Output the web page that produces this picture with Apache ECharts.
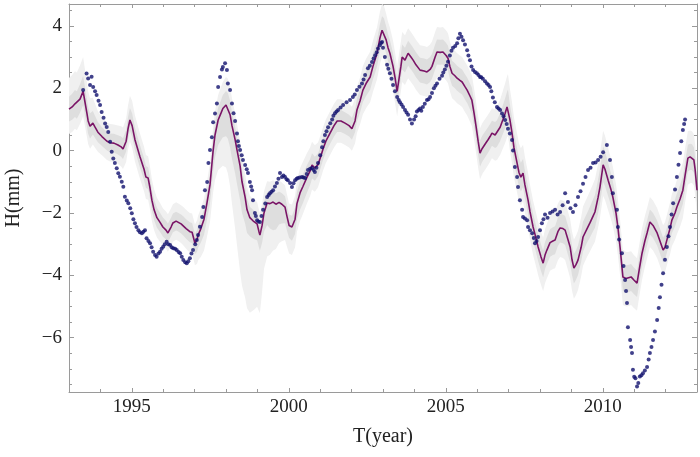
<!DOCTYPE html>
<html><head><meta charset="utf-8">
<script src="https://cdn.jsdelivr.net/npm/echarts@6/dist/echarts.min.js"></script>
<style>html,body{margin:0;padding:0;background:#fff}#c{width:700px;height:457px}</style>
</head><body><div id="c"></div>
<script>
// ---- smoothed model curve (purple) ----
const lineYears = [1993.00,1993.10,1993.19,1993.25,1993.35,1993.45,1993.51,1993.57,1993.61,1993.67,1993.76,1993.83,1993.92,1994.05,1994.21,1994.31,1994.43,1994.56,1994.66,1994.72,1994.82,1994.88,1994.94,1995.01,1995.10,1995.26,1995.39,1995.45,1995.52,1995.58,1995.64,1995.71,1995.80,1995.90,1995.99,1996.09,1996.15,1996.25,1996.31,1996.41,1996.47,1996.57,1996.63,1996.73,1996.79,1996.85,1996.92,1996.98,1997.01,1997.08,1997.11,1997.20,1997.30,1997.39,1997.49,1997.59,1997.65,1997.75,1997.84,1997.90,1998.00,1998.06,1998.13,1998.19,1998.29,1998.35,1998.45,1998.51,1998.61,1998.67,1998.76,1998.86,1998.92,1998.99,1999.05,1999.08,1999.15,1999.21,1999.31,1999.40,1999.50,1999.59,1999.69,1999.78,1999.88,1999.94,2000.01,2000.10,2000.20,2000.26,2000.36,2000.45,2000.58,2000.68,2000.74,2000.83,2000.93,2001.03,2001.09,2001.18,2001.31,2001.44,2001.54,2001.66,2001.79,2001.92,2002.01,2002.11,2002.17,2002.27,2002.36,2002.46,2002.59,2002.68,2002.81,2002.90,2002.97,2003.03,2003.10,2003.16,2003.22,2003.32,2003.38,2003.45,2003.51,2003.57,2003.61,2003.70,2003.80,2003.89,2003.96,2004.05,2004.18,2004.31,2004.40,2004.50,2004.56,2004.66,2004.72,2004.82,2004.91,2005.01,2005.07,2005.13,2005.20,2005.29,2005.36,2005.45,2005.52,2005.61,2005.68,2005.77,2005.83,2005.90,2005.96,2006.03,2006.09,2006.15,2006.18,2006.28,2006.34,2006.41,2006.47,2006.57,2006.63,2006.73,2006.82,2006.89,2006.95,2006.98,2007.04,2007.11,2007.17,2007.27,2007.33,2007.39,2007.46,2007.52,2007.62,2007.68,2007.78,2007.87,2007.94,2008.03,2008.10,2008.16,2008.22,2008.32,2008.41,2008.48,2008.57,2008.64,2008.73,2008.80,2008.89,2008.96,2009.02,2009.08,2009.15,2009.21,2009.31,2009.37,2009.50,2009.59,2009.69,2009.75,2009.85,2009.91,2010.01,2010.07,2010.17,2010.26,2010.32,2010.42,2010.48,2010.55,2010.64,2010.74,2010.80,2010.90,2010.99,2011.09,2011.18,2011.25,2011.34,2011.41,2011.50,2011.60,2011.73,2011.82,2011.92,2011.98,2012.04,2012.14,2012.20,2012.30,2012.36,2012.46,2012.55,2012.62,2012.71,2012.78,2012.84,2012.90,2012.94,2013.00];
const lineValues = [1.33,1.40,1.50,1.45,1.65,1.90,1.55,1.20,0.95,0.78,0.88,0.75,0.59,0.45,0.30,0.25,0.24,0.18,0.12,0.05,0.30,0.70,0.98,0.80,0.35,-0.20,-0.60,-0.85,-0.88,-1.20,-1.59,-1.90,-2.15,-2.30,-2.45,-2.55,-2.64,-2.45,-2.32,-2.26,-2.29,-2.35,-2.40,-2.50,-2.55,-2.60,-2.62,-2.85,-2.97,-2.85,-2.71,-2.50,-2.20,-1.70,-1.10,0.00,0.50,0.98,1.20,1.35,1.46,1.40,1.15,0.80,0.35,0.02,-0.50,-1.00,-1.50,-1.90,-2.15,-2.25,-2.30,-2.35,-2.60,-2.71,-2.40,-2.00,-1.68,-1.70,-1.65,-1.72,-1.66,-1.72,-1.81,-2.10,-2.40,-2.45,-2.20,-1.70,-1.35,-1.15,-0.85,-0.65,-0.46,-0.56,-0.45,-0.15,0.05,0.30,0.55,0.80,0.95,0.95,0.88,0.80,0.70,0.95,1.30,1.60,1.94,2.15,2.36,2.70,3.12,3.60,3.86,3.80,3.55,3.30,3.12,2.70,2.36,1.90,2.30,2.70,3.00,2.90,3.12,3.00,2.90,2.75,2.58,2.55,2.52,2.60,2.70,3.00,3.16,3.15,3.16,3.05,2.96,2.70,2.48,2.40,2.32,2.25,2.20,2.05,1.94,1.75,1.62,1.20,0.80,0.30,-0.08,0.05,0.11,0.25,0.34,0.45,0.56,0.50,0.55,0.75,1.00,1.20,1.40,1.46,1.00,0.56,0.10,-0.40,-0.70,-0.85,-0.72,-1.10,-1.59,-1.95,-2.45,-2.80,-3.09,-3.40,-3.61,-3.35,-3.19,-2.95,-2.90,-2.87,-2.60,-2.48,-2.50,-2.55,-2.85,-3.09,-3.50,-3.77,-3.65,-3.51,-3.10,-2.77,-2.50,-2.32,-2.10,-1.97,-1.50,-1.17,-0.46,-0.60,-0.95,-1.25,-1.49,-2.00,-2.45,-3.10,-4.05,-4.10,-4.09,-4.05,-4.15,-4.25,-3.70,-3.29,-2.90,-2.64,-2.29,-2.40,-2.64,-2.90,-3.19,-3.10,-2.87,-2.50,-2.23,-2.00,-1.81,-1.55,-1.27,-0.80,-0.24,-0.20,-0.21,-0.30,-0.60,-1.27];

// ---- observations (blue dots) ----
const dotYears = [1993.45,1993.56,1993.61,1993.67,1993.72,1993.77,1993.83,1993.88,1993.94,1993.99,1994.04,1994.10,1994.15,1994.20,1994.25,1994.31,1994.36,1994.41,1994.46,1994.52,1994.57,1994.62,1994.68,1994.73,1994.78,1994.84,1994.89,1994.95,1995.00,1995.05,1995.10,1995.15,1995.21,1995.26,1995.32,1995.37,1995.42,1995.47,1995.53,1995.58,1995.63,1995.68,1995.74,1995.79,1995.85,1995.90,1995.95,1996.00,1996.05,1996.11,1996.16,1996.22,1996.27,1996.32,1996.38,1996.43,1996.49,1996.54,1996.59,1996.64,1996.70,1996.75,1996.80,1996.85,1996.90,1996.95,1997.02,1997.07,1997.11,1997.17,1997.24,1997.28,1997.33,1997.40,1997.44,1997.49,1997.55,1997.59,1997.65,1997.71,1997.75,1997.81,1997.87,1997.90,1997.97,1998.03,1998.06,1998.13,1998.19,1998.24,1998.29,1998.35,1998.38,1998.41,1998.45,1998.50,1998.54,1998.61,1998.66,1998.70,1998.76,1998.80,1998.83,1998.86,1998.92,1998.95,1998.99,1999.03,1999.08,1999.13,1999.18,1999.25,1999.31,1999.36,1999.40,1999.45,1999.50,1999.56,1999.62,1999.67,1999.72,1999.78,1999.83,1999.88,1999.93,1999.97,2000.04,2000.10,2000.15,2000.20,2000.25,2000.29,2000.35,2000.42,2000.47,2000.52,2000.57,2000.61,2000.68,2000.74,2000.79,2000.83,2000.88,2000.93,2001.00,2001.06,2001.10,2001.15,2001.20,2001.25,2001.32,2001.38,2001.42,2001.47,2001.52,2001.57,2001.65,2001.73,2001.84,2001.95,2002.04,2002.10,2002.17,2002.25,2002.33,2002.38,2002.43,2002.52,2002.58,2002.65,2002.70,2002.75,2002.80,2002.84,2002.90,2002.94,2002.97,2003.00,2003.06,2003.13,2003.17,2003.22,2003.27,2003.32,2003.38,2003.45,2003.50,2003.54,2003.59,2003.64,2003.70,2003.75,2003.80,2003.86,2003.92,2003.99,2004.04,2004.08,2004.13,2004.18,2004.22,2004.27,2004.33,2004.40,2004.45,2004.50,2004.56,2004.62,2004.67,2004.72,2004.80,2004.88,2004.92,2004.97,2005.02,2005.07,2005.13,2005.18,2005.23,2005.30,2005.36,2005.40,2005.45,2005.50,2005.55,2005.61,2005.68,2005.72,2005.77,2005.82,2005.87,2005.93,2005.99,2006.04,2006.09,2006.13,2006.18,2006.25,2006.31,2006.36,2006.41,2006.45,2006.50,2006.56,2006.63,2006.68,2006.73,2006.79,2006.84,2006.89,2006.94,2006.98,2007.04,2007.11,2007.14,2007.20,2007.27,2007.30,2007.36,2007.43,2007.46,2007.52,2007.59,2007.62,2007.68,2007.75,2007.80,2007.84,2007.89,2007.94,2008.00,2008.06,2008.11,2008.16,2008.24,2008.32,2008.40,2008.48,2008.56,2008.64,2008.72,2008.80,2008.89,2008.97,2009.05,2009.13,2009.21,2009.29,2009.37,2009.45,2009.53,2009.61,2009.69,2009.77,2009.85,2009.93,2010.01,2010.13,2010.23,2010.29,2010.32,2010.45,2010.48,2010.52,2010.61,2010.66,2010.71,2010.74,2010.77,2010.80,2010.87,2010.90,2010.93,2010.96,2011.00,2011.04,2011.09,2011.13,2011.18,2011.23,2011.28,2011.34,2011.41,2011.46,2011.50,2011.55,2011.60,2011.66,2011.73,2011.78,2011.82,2011.87,2011.92,2011.98,2012.04,2012.09,2012.14,2012.19,2012.24,2012.30,2012.36,2012.41,2012.46,2012.50,2012.55,2012.59,2012.62];
const dotValues = [1.94,2.47,2.31,2.10,2.37,2.04,1.90,1.78,1.60,1.46,1.24,1.05,0.87,0.76,0.60,0.28,-0.04,-0.25,-0.40,-0.57,-0.73,-0.84,-1.00,-1.16,-1.48,-1.60,-1.69,-1.85,-2.01,-2.20,-2.33,-2.45,-2.55,-2.62,-2.65,-2.60,-2.55,-2.81,-2.90,-2.97,-3.10,-3.24,-3.35,-3.40,-3.30,-3.24,-3.15,-3.08,-3.00,-2.92,-3.00,-3.03,-3.10,-3.13,-3.15,-3.19,-3.25,-3.29,-3.40,-3.51,-3.58,-3.61,-3.55,-3.45,-3.30,-3.19,-3.00,-2.87,-2.71,-2.44,-2.13,-1.81,-1.27,-1.01,-0.40,0.02,0.43,0.91,1.19,1.51,2.04,2.36,2.60,2.68,2.80,2.58,2.15,1.94,1.51,1.20,0.95,0.55,0.30,0.15,0.02,-0.15,-0.30,-0.46,-0.60,-0.72,-1.01,-1.15,-1.27,-1.59,-2.00,-2.10,-2.23,-2.27,-2.29,-2.10,-1.90,-1.70,-1.49,-1.42,-1.37,-1.32,-1.27,-1.15,-1.04,-0.90,-0.72,-0.85,-0.80,-0.85,-0.92,-0.95,-1.04,-1.17,-1.05,-0.95,-0.90,-0.88,-0.86,-0.85,-0.86,-0.88,-0.75,-0.62,-0.58,-0.56,-0.62,-0.69,-0.55,-0.40,-0.15,0.11,0.30,0.50,0.62,0.75,0.88,1.00,1.12,1.20,1.25,1.30,1.38,1.46,1.55,1.62,1.72,1.80,1.94,2.05,2.15,2.28,2.42,2.64,2.72,2.84,2.95,3.06,3.15,3.27,3.38,3.45,3.48,3.30,3.00,2.75,2.62,2.48,2.30,2.10,1.90,1.72,1.62,1.55,1.48,1.40,1.30,1.22,1.15,1.00,0.87,1.00,1.10,1.25,1.30,1.35,1.28,1.40,1.50,1.62,1.65,1.72,1.85,2.00,2.08,2.15,2.30,2.40,2.50,2.60,2.72,2.85,3.05,3.20,3.30,3.35,3.44,3.60,3.75,3.65,3.54,3.40,3.22,3.05,2.90,2.70,2.58,2.52,2.48,2.42,2.36,2.35,2.30,2.22,2.15,2.10,2.04,1.90,1.70,1.55,1.40,1.35,1.30,1.19,1.10,0.98,0.85,0.70,0.55,0.34,0.00,-0.53,-0.85,-1.17,-1.59,-1.90,-2.13,-2.18,-2.23,-2.45,-2.55,-2.65,-2.80,-2.97,-2.90,-2.77,-2.55,-2.33,-2.20,-2.05,-2.15,-2.00,-1.95,-1.90,-2.05,-1.97,-1.75,-1.37,-1.65,-1.85,-1.97,-1.75,-1.49,-1.30,-1.06,-0.85,-0.62,-0.55,-0.40,-0.38,-0.30,-0.20,-0.05,0.18,-0.30,-0.85,-1.37,-1.90,-2.45,-2.85,-3.29,-3.70,-4.15,-4.50,-4.89,-5.66,-6.07,-6.30,-6.49,-7.03,-7.25,-7.30,-7.56,-7.45,-7.24,-7.20,-7.14,-7.05,-6.94,-6.70,-6.49,-6.30,-6.07,-5.80,-5.43,-5.05,-4.70,-4.30,-3.93,-3.50,-3.09,-2.75,-2.45,-2.05,-1.69,-1.25,-0.85,-0.45,-0.08,0.30,0.66,0.85,1.00];

// ---- uncertainty band half-widths (read at knots) ----
const bandYears = [1993.0,1993.45,1994.0,1994.5,1995.0,1995.5,1996.0,1996.5,1997.0,1997.5,1998.0,1998.13,1998.45,1998.76,1999.08,1999.21,1999.5,2000.0,2000.4,2001.0,2001.5,2002.0,2002.5,2003.0,2003.5,2004.0,2004.5,2005.0,2005.5,2006.0,2006.5,2007.0,2007.5,2008.0,2008.5,2009.0,2009.5,2010.0,2010.5,2011.0,2011.5,2012.0,2012.5,2013.0];
const innerUp   = [0.40,0.50,0.30,0.30,0.40,0.35,0.30,0.30,0.30,0.35,0.45,0.45,0.40,0.35,0.35,0.35,0.35,0.35,0.40,0.35,0.35,0.35,0.40,0.45,0.40,0.40,0.40,0.40,0.40,0.40,0.40,0.50,0.45,0.40,0.45,0.45,0.50,0.60,0.45,0.40,0.40,0.40,0.45,0.40];
const innerDown = [0.40,0.45,0.30,0.30,0.35,0.35,0.30,0.30,0.35,0.60,1.00,1.05,1.10,0.60,0.50,0.60,0.90,0.40,0.55,0.35,0.35,0.35,0.40,0.45,0.40,0.40,0.40,0.40,0.40,0.45,0.40,0.50,0.45,0.45,0.45,0.50,0.45,0.55,0.45,0.45,0.40,0.40,0.45,0.40];
const outerUp   = [1.00,1.10,0.60,0.60,0.80,0.70,0.60,0.60,0.60,0.70,0.90,0.90,0.80,0.70,0.70,0.70,0.70,0.70,0.80,0.70,0.70,0.70,0.80,0.85,0.80,0.80,0.80,0.80,0.80,0.80,0.80,1.00,0.90,0.80,0.90,0.90,1.00,1.10,0.90,0.80,0.80,0.80,0.90,0.80];
const outerDown = [0.80,0.80,0.60,0.60,0.70,0.70,0.60,0.60,0.70,1.20,2.00,2.30,3.40,3.05,2.50,1.80,1.55,0.90,0.90,0.70,0.70,0.70,0.80,0.85,0.80,0.80,0.80,0.80,0.80,0.85,0.80,1.00,0.90,0.90,0.90,1.00,0.90,1.00,0.90,0.90,0.80,0.80,0.90,0.80];

// ---- axes ----
const xMajorTicks = [1995, 2000, 2005, 2010];
const xMinorTicks = [1994,1996,1997,1998,1999,2001,2002,2003,2004,2006,2007,2008,2009,2011,2012];
const yMajorTicks = [-6, -4, -2, 0, 2, 4];
const yMinorTicks = [-7.5,-7,-6.5,-5.5,-5,-4.5,-3.5,-3,-2.5,-1.5,-1,-0.5,0.5,1,1.5,2.5,3,3.5,4.5];
const X_MIN = 1993, X_MAX = 2013, Y_MIN = -7.74, Y_MAX = 4.70;

function widthAt(t, arr) {
  if (t <= bandYears[0]) return arr[0];
  for (let i = 1; i < bandYears.length; i++) {
    if (t <= bandYears[i]) {
      const f = (t - bandYears[i-1]) / (bandYears[i] - bandYears[i-1]);
      return arr[i-1] + f * (arr[i] - arr[i-1]);
    }
  }
  return arr[arr.length - 1];
}
const outerHi = lineValues.map((v, i) => v + widthAt(lineYears[i], outerUp));
const outerLo = lineValues.map((v, i) => v - widthAt(lineYears[i], outerDown));
const innerHi = lineValues.map((v, i) => v + widthAt(lineYears[i], innerUp));
const innerLo = lineValues.map((v, i) => v - widthAt(lineYears[i], innerDown));

const AX = '#9a9a9a';
const FONT = 'Liberation Serif';
const minus = v => String(v).replace('-', '\u2212');

function xAxisDef(pos, ticks, len, main) {
  return {
    type: 'value', position: pos, min: X_MIN, max: X_MAX,
    axisLine: { show: main, onZero: false, lineStyle: { color: AX, width: 1 } },
    axisTick: { show: true, inside: true, length: len, customValues: ticks, lineStyle: { color: AX } },
    axisLabel: { show: main && pos === 'bottom', customValues: xMajorTicks, margin: 6,
      fontFamily: FONT, fontSize: 19, color: '#222', formatter: v => String(v) },
    splitLine: { show: false },
    name: (main && pos === 'bottom') ? 'T(year)' : '',
    nameLocation: 'middle', nameGap: 35, nameMoveOverlap: false,
    nameTextStyle: { fontFamily: FONT, fontSize: 20, color: '#222' }
  };
}
function yAxisDef(pos, ticks, len, main) {
  return {
    type: 'value', position: pos, min: Y_MIN, max: Y_MAX,
    axisLine: { show: main, onZero: false, lineStyle: { color: AX, width: 1 } },
    axisTick: { show: true, inside: true, length: len, customValues: ticks, lineStyle: { color: AX } },
    axisLabel: { show: main && pos === 'left', customValues: yMajorTicks, margin: 7,
      fontFamily: FONT, fontSize: 19, color: '#222', formatter: minus },
    splitLine: { show: false },
    name: (main && pos === 'left') ? 'H(mm)' : '',
    nameLocation: 'middle', nameGap: 45, nameMoveOverlap: false,
    nameTextStyle: { fontFamily: FONT, fontSize: 20, color: '#222' }
  };
}

function bandSeries(hi, lo, color, z) {
  return {
    type: 'custom', z: z, silent: true,
    data: lineYears.map((t, i) => [t, lineValues[i]]),
    encode: { x: 0, y: 1 },
    renderItem: function (params, api) {
      if (params.dataIndex !== 0) return null;
      const up = [], dn = [];
      for (let i = 0; i < lineYears.length; i++) {
        up.push(api.coord([lineYears[i], hi[i]]));
        dn.push(api.coord([lineYears[i], lo[i]]));
      }
      const cs = params.coordSys;
      const pts = echarts.graphic.clipPointsByRect(up.concat(dn.reverse()),
        { x: cs.x, y: cs.y, width: cs.width, height: cs.height });
      return { type: 'polygon', shape: { points: pts }, style: { fill: color } };
    }
  };
}

const chart = echarts.init(document.getElementById('c'), null, { renderer: 'canvas' });
chart.setOption({
  animation: false,
  backgroundColor: '#fff',
  grid: { left: 69, right: 3, top: 4, bottom: 65, containLabel: false, outerBoundsMode: 'none' },
  xAxis: [
    xAxisDef('bottom', xMajorTicks, 4, true),
    xAxisDef('bottom', xMinorTicks, 3, false),
    xAxisDef('top', xMajorTicks, 4, true),
    xAxisDef('top', xMinorTicks, 3, false)
  ],
  yAxis: [
    yAxisDef('left', yMajorTicks, 5, true),
    yAxisDef('left', yMinorTicks, 3, false),
    yAxisDef('right', yMajorTicks, 5, true),
    yAxisDef('right', yMinorTicks, 3, false)
  ],
  series: [
    bandSeries(outerHi, outerLo, '#f0f0f0', 1),
    bandSeries(innerHi, innerLo, '#dedede', 2),
    {
      type: 'line', z: 3, showSymbol: false, silent: true,
      data: lineYears.map((t, i) => [t, lineValues[i]]),
      lineStyle: { color: '#7a1466', width: 1.6 }
    },
    {
      type: 'scatter', z: 4, silent: true, symbolSize: 4,
      data: dotYears.map((t, i) => [t, dotValues[i]]),
      itemStyle: { color: '#12126e' }
    }
  ]
});
</script></body></html>
